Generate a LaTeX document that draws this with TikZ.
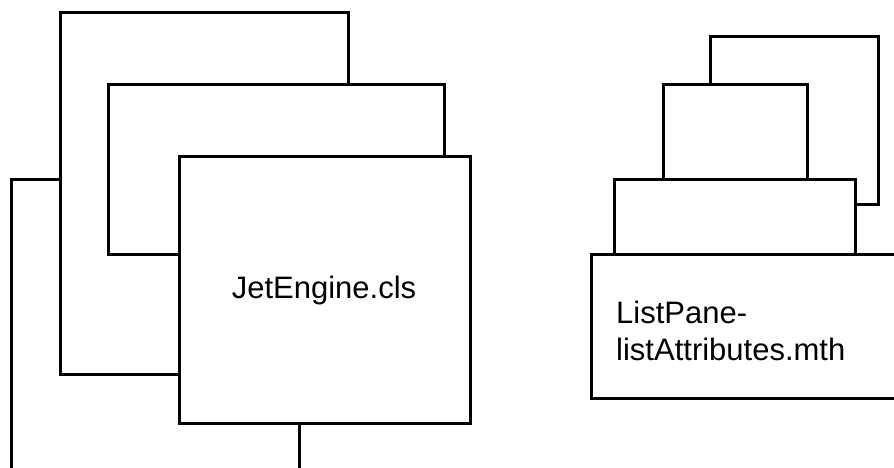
\documentclass[tikz,border=0pt]{standalone}
\usepackage{fontspec}
\setmainfont{Liberation Sans}
\begin{document}
\begin{tikzpicture}[x=1pt,y=-1pt,
  box/.style={draw=black,fill=white,line width=3pt,rectangle,inner sep=0pt,anchor=north west},
  lbl/.style={font=\fontsize{31}{37}\selectfont,inner sep=0pt,align=left},
  wire/.style={draw=black,line width=3pt}]
\useasboundingbox (0,0) rectangle (894,468);
\begin{scope}
\clip (0,0) rectangle (894,468);
% left group
\node[box,minimum width=288pt,minimum height=362pt] (A) at (59,11) {};
\node[box,minimum width=336pt,minimum height=170pt] (B) at (107,83) {};
\node[box,minimum width=291pt,minimum height=267pt] (C) at (178,155) {};
\node[lbl,anchor=base] (Ct) at (324,298) {JetEngine.cls};
\coordinate (w1) at (11,179);
\coordinate (w2) at (11,475);
\coordinate (w3) at (299,475);
\draw[wire] (A.west |- w1) -- (w1) -- (w2);
\draw[wire] (C.south -| w3) -- (w3);
% right group
\node[box,minimum width=168pt,minimum height=168pt] (D) at (709,35) {};
\node[box,minimum width=144pt,minimum height=95pt] (E) at (662,83) {};
\node[box,minimum width=241pt,minimum height=75pt] (F) at (613,178) {};
\node[box,minimum width=330pt,minimum height=144pt] (G) at (590,253) {};
\node[lbl,anchor=base west] (Gt) at (616,360) {ListPane-\\listAttributes.mth};
\end{scope}
\end{tikzpicture}
\end{document}
